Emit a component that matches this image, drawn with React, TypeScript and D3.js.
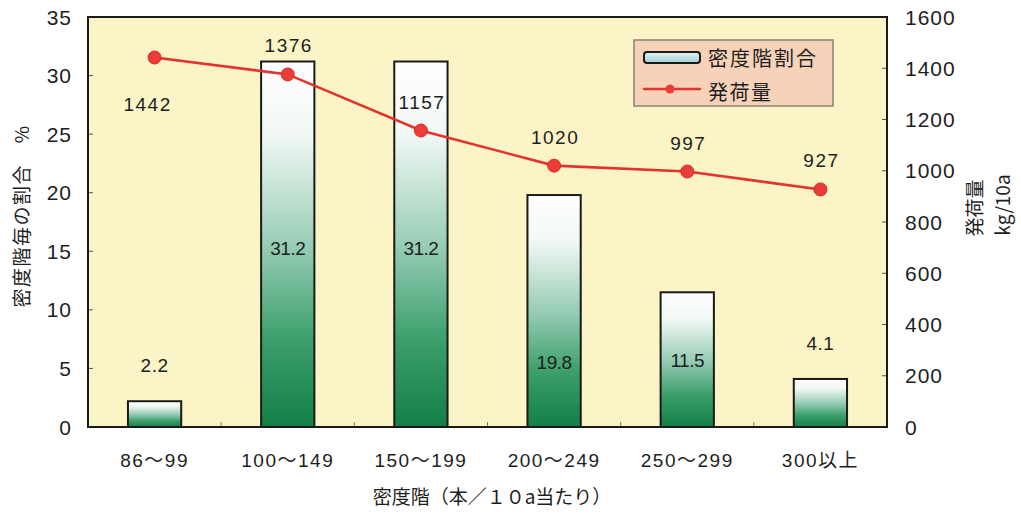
import React from "react";
import * as d3 from "d3";

// 密度階ごとの割合（棒）と発荷量（折れ線）
const categories = ["86～99", "100～149", "150～199", "200～249", "250～299", "300以上"];
const shareValues = [2.2, 31.2, 31.2, 19.8, 11.5, 4.1];
const yieldValues = [1442, 1376, 1157, 1020, 997, 927];
const leftTicks = [0, 5, 10, 15, 20, 25, 30, 35];
const rightTicks = [0, 200, 400, 600, 800, 1000, 1200, 1400, 1600];

const W = 1021;
const H = 514;
const FONT = "'Noto Sans CJK JP', 'Noto Sans', sans-serif";
const NUM_FONT = "'Liberation Sans', 'Noto Sans CJK JP', sans-serif";

// placement of the share label inside a bar, as a fraction of bar height from its base
const insideLabelFrac = [null, 0.49, 0.49, 0.28, 0.5, null];

export default function App() {
  const plot = { left: 88, right: 887, top: 17, bottom: 427 };

  const x = d3
    .scaleBand<string>()
    .domain(categories)
    .range([plot.left, plot.right])
    .padding(0);
  const yL = d3.scaleLinear().domain([0, 35]).range([plot.bottom, plot.top]);
  const yR = d3.scaleLinear().domain([0, 1600]).range([plot.bottom, plot.top]);

  const bw = x.bandwidth() * 0.4;
  const cx = (c: string) => (x(c) ?? 0) + x.bandwidth() / 2;

  const linePath = d3
    .line<number>()
    .x((_, i) => cx(categories[i]))
    .y((d) => yR(d))(yieldValues);

  const textColor = "#1e1e1e";

  return (
    <svg
      width={W}
      height={H}
      style={{ position: "absolute", left: 0, top: 0, background: "#ffffff" }}
      fontFamily={FONT}
    >
      <defs>
        <linearGradient id="barFill" x1="0" y1="0" x2="0" y2="1">
          <stop offset="0%" stopColor="#ffffff" />
          <stop offset="20%" stopColor="#f1f8f4" />
          <stop offset="50%" stopColor="#98cdb6" />
          <stop offset="76%" stopColor="#3c9f6c" />
          <stop offset="100%" stopColor="#137f46" />
        </linearGradient>
        <linearGradient id="legendFill" x1="0" y1="0" x2="0" y2="1">
          <stop offset="0%" stopColor="#e6f3f0" />
          <stop offset="100%" stopColor="#9fd2d6" />
        </linearGradient>
      </defs>

      {/* plot background */}
      <rect
        x={plot.left}
        y={plot.top}
        width={plot.right - plot.left}
        height={plot.bottom - plot.top}
        fill="#faf4c6"
      />

      {/* bars */}
      {shareValues.map((v, i) => {
        const c = categories[i];
        const top = yL(v);
        return (
          <rect
            key={c}
            x={cx(c) - bw / 2}
            y={top}
            width={bw}
            height={plot.bottom - top}
            fill="url(#barFill)"
            stroke="#1a1a1a"
            strokeWidth={2}
          />
        );
      })}

      {/* share labels */}
      {shareValues.map((v, i) => {
        const c = categories[i];
        const frac = insideLabelFrac[i];
        const top = yL(v);
        const yText =
          frac == null ? top - 29 : plot.bottom - (plot.bottom - top) * frac + 7;
        return (
          <text
            key={"s" + c}
            x={cx(c)}
            y={yText}
            textAnchor="middle"
            fontSize={19}
            fontFamily={NUM_FONT}
            fill={textColor}
            letterSpacing={frac == null ? 0.5 : -0.5}
          >
            {v.toFixed(1)}
          </text>
        );
      })}

      {/* yield line */}
      <path d={linePath ?? ""} fill="none" stroke="#e5322d" strokeWidth={2.6} />
      {yieldValues.map((v, i) => (
        <circle
          key={"p" + i}
          cx={cx(categories[i])}
          cy={yR(v)}
          r={6.5}
          fill="#ec3c38"
          stroke="#d62a26"
          strokeWidth={1}
        />
      ))}
      {yieldValues.map((v, i) => {
        const below = i === 0;
        return (
          <text
            key={"y" + i}
            x={cx(categories[i]) + (below ? -7 : 1)}
            y={yR(v) + (below ? 54 : -22)}
            textAnchor="middle"
            fontSize={19}
            fontFamily={NUM_FONT}
            letterSpacing={1.5}
            fill={textColor}
          >
            {v}
          </text>
        );
      })}

      {/* ticks */}
      {leftTicks.map((t) => (
        <g key={"lt" + t}>
          <line
            x1={plot.left}
            x2={plot.left + 5}
            y1={yL(t)}
            y2={yL(t)}
            stroke="#555"
            strokeWidth={1}
          />
          <text
            x={72}
            y={yL(t) + 7.5}
            textAnchor="end"
            fontSize={21}
            fontFamily={NUM_FONT}
            letterSpacing={1}
            fill={textColor}
          >
            {t}
          </text>
        </g>
      ))}
      {rightTicks.map((t) => (
        <g key={"rt" + t}>
          <line
            x1={plot.right - 5}
            x2={plot.right}
            y1={yR(t)}
            y2={yR(t)}
            stroke="#555"
            strokeWidth={1}
          />
          <text
            x={905}
            y={yR(t) + 7.5}
            textAnchor="start"
            fontSize={21}
            fontFamily={NUM_FONT}
            letterSpacing={1}
            fill={textColor}
          >
            {t}
          </text>
        </g>
      ))}
      {categories.slice(1).map((c) => (
        <line
          key={"xt" + c}
          x1={x(c)}
          x2={x(c)}
          y1={plot.bottom}
          y2={plot.bottom - 5}
          stroke="#777"
          strokeWidth={1}
        />
      ))}
      {categories.map((c) => (
        <text
          key={"xl" + c}
          x={cx(c)}
          y={467}
          textAnchor="middle"
          fontSize={19}
          fontFamily={NUM_FONT}
          letterSpacing={1.5}
          fill={textColor}
        >
          {c}
        </text>
      ))}

      {/* frame */}
      <rect
        x={plot.left}
        y={plot.top}
        width={plot.right - plot.left}
        height={plot.bottom - plot.top}
        fill="none"
        stroke="#1a1a1a"
        strokeWidth={2}
      />

      {/* axis titles */}
      <text
        transform={`translate(29, 216) rotate(-90)`}
        textAnchor="middle"
        fontSize={19}
        letterSpacing={1.5}
        fill={textColor}
      >
        密度階毎の割合　%
      </text>
      <text
        transform={`translate(982, 208) rotate(-90)`}
        textAnchor="middle"
        fontSize={19}
        fill={textColor}
      >
        発荷量
      </text>
      <text
        transform={`translate(1010, 205) rotate(-90)`}
        textAnchor="middle"
        fontSize={19}
        fill={textColor}
      >
        kg/10a
      </text>
      <text x={492} y={504} textAnchor="middle" fontSize={19} fill={textColor}>
        密度階（本／１０a当たり）
      </text>

      {/* legend */}
      <g>
        <rect
          x={634}
          y={40}
          width={199}
          height={66}
          fill="#f6d2b8"
          stroke="#8f8070"
          strokeWidth={1.5}
        />
        <rect
          x={644}
          y={52}
          width={56}
          height={11}
          rx={3}
          fill="url(#legendFill)"
          stroke="#1a1a1a"
          strokeWidth={2}
        />
        <text x={708} y={66} fontSize={20} letterSpacing={2} fill={textColor}>
          密度階割合
        </text>
        <line x1={643} x2={701} y1={89} y2={89} stroke="#e5322d" strokeWidth={2.6} />
        <circle cx={670} cy={89} r={4.5} fill="#ec3c38" />
        <text x={708} y={100} fontSize={20} letterSpacing={1.5} fill={textColor}>
          発荷量
        </text>
      </g>
    </svg>
  );
}
